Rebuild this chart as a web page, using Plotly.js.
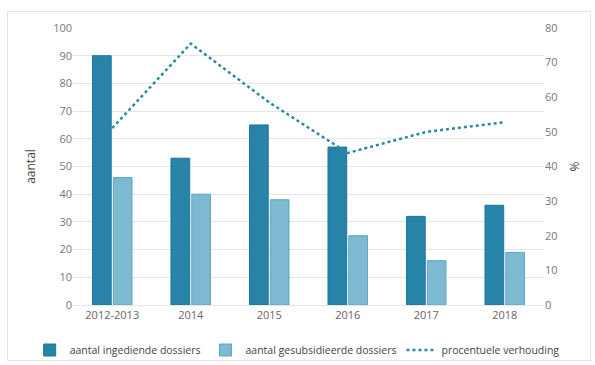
<!DOCTYPE html>
<html>
<head>
<meta charset="utf-8">
<script src="https://cdn.plot.ly/plotly-3.0.1.min.js"></script>
<style>
html,body{margin:0;padding:0;background:#fff;overflow:hidden;width:595px;height:365px;}
#frame{position:absolute;left:7px;top:11px;width:584px;height:350px;border:1px solid #e4e4e4;box-sizing:border-box;}
#chart{position:absolute;left:0;top:0;width:595px;height:377px;}
</style>
</head>
<body>
<div id="frame"></div>
<div id="chart"></div>
<script>
var categories = ["2012-2013", "2014", "2015", "2016", "2017", "2018"];
var ingediend = [90, 53, 65, 57, 32, 36];
var gesubsidieerd = [46, 40, 38, 25, 16, 19];
var verhouding = [51.1, 75.5, 58.5, 43.9, 50.0, 52.8];
var leftTicks = [0, 10, 20, 30, 40, 50, 60, 70, 80, 90, 100];
var rightTicks = [0, 10, 20, 30, 40, 50, 60, 70, 80];

var font = "Open Sans, Noto Sans, sans-serif";
var traces = [
  {type: "bar", name: "aantal ingediende dossiers", x: categories, y: ingediend,
   marker: {color: "#2784a8", line: {color: "#1f7699", width: 1}}, yaxis: "y"},
  {type: "bar", name: "aantal gesubsidieerde dossiers", x: categories, y: gesubsidieerd,
   marker: {color: "#7db9d0", line: {color: "#5ea6c2", width: 1}}, yaxis: "y"},
  {type: "scatter", mode: "lines", name: "procentuele verhouding", x: categories, y: verhouding,
   line: {color: "#2a8aa3", width: 2.5, dash: "dot"}, yaxis: "y2"}
];

var layout = {
  width: 595, height: 377,
  paper_bgcolor: "rgba(0,0,0,0)", plot_bgcolor: "rgba(0,0,0,0)",
  margin: {l: 73, r: 51, t: 28, b: 72},
  font: {family: font, size: 11, color: "#666"},
  barmode: "group", bargap: 0.47, bargroupgap: 0.1,
  showlegend: true,
  legend: {orientation: "h", x: -0.092, xanchor: "left",
           y: -0.1625, yanchor: "middle", font: {size: 10.5, color: "#444"}, itemwidth: 30,
           traceorder: "normal", tracegroupgap: 0},
  xaxis: {type: "category", showgrid: false, showline: true, linecolor: "#e6e6e6",
          ticks: "", tickfont: {size: 11, color: "#666"}, automargin: false},
  yaxis: {range: [0, 100], tickvals: leftTicks, showgrid: true, gridcolor: "#e6e6e6",
          zeroline: false, ticks: "", tickfont: {size: 11, color: "#777"}, automargin: false,
          title: {text: "aantal", font: {size: 12, color: "#444"}, standoff: 14}},
  yaxis2: {range: [0, 80], tickvals: rightTicks, overlaying: "y", side: "right", automargin: false,
           showgrid: false, zeroline: false, tickfont: {size: 11, color: "#777"},
           title: {text: "%", font: {size: 12, color: "#444"}, standoff: 14}}
};

Plotly.newPlot("chart", traces, layout, {displayModeBar: false, staticPlot: true});
</script>
</body>
</html>
